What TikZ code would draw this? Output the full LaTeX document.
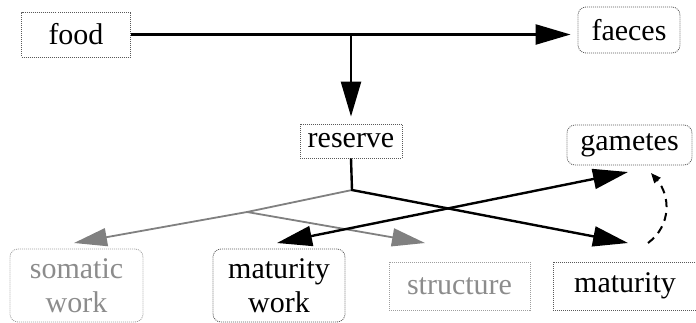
\documentclass[tikz,border=0pt]{standalone}
\usepackage{fontspec}
\newfontfamily\poolfont{LiberationSerif}[Extension=.ttf, UprightFont=*-Regular]
\usetikzlibrary{arrows.meta,calc}
\definecolor{boxline}{gray}{0.35}
\definecolor{fadeline}{gray}{0.62}
\definecolor{fadetext}{gray}{0.55}
\definecolor{flowgray}{gray}{0.5}

\begin{document}
\begin{tikzpicture}[x=1pt,y=-1pt,
  every node/.style={font=\poolfont\fontsize{30}{34}\selectfont, inner sep=0pt, align=center},
  pool/.style={draw=boxline, line width=0.8pt, dash pattern=on 1pt off 1pt},
  roundpool/.style={pool, rounded corners=8pt},
  faded/.style={draw=fadeline, text=fadetext},
  flow/.style={line width=2.4pt, -{Triangle[length=35pt,width=20pt]}},
  grayflow/.style={line width=1.8pt, draw=flowgray, -{Triangle[length=33pt,width=18pt]}, flowgray},
  signal/.style={line width=2pt, dash pattern=on 8pt off 6pt, -{Triangle[length=10pt,width=8pt]}},
]
\useasboundingbox (0,0) rectangle (696,322);

% compartments
\node[pool, minimum width=109pt, minimum height=45pt] (food) at (76,34.5) {food};
\node[roundpool, minimum width=102pt, minimum height=46pt] (faeces) at (629,30) {faeces};
\node[pool, minimum width=102pt, minimum height=34pt] (reserve) at (351,141) {reserve};
\node[roundpool, minimum width=125pt, minimum height=40pt] (gametes) at (629.5,145) {gametes};
\node[roundpool, faded, minimum width=133pt, minimum height=73pt] (somatic) at (76.5,285.5) {somatic\\work};
\node[roundpool, minimum width=132pt, minimum height=73pt] (matwork) at (279,285.5) {maturity\\work};
\node[pool, faded, minimum width=141pt, minimum height=48pt] (structure) at (459.5,286) {structure};
\node[pool, minimum width=144pt, minimum height=48pt] (maturity) at (625,286) {maturity};

% junctions and arrow ends
\coordinate (fork) at (352,190);
\coordinate (grayfork) at (247,212);
\coordinate (somTip) at (74,243);
\coordinate (strTip) at (425,243);
\coordinate (matTip) at (628,243);
\coordinate (mwTip) at (277,243);
\coordinate (gamTip) at (628,172);
\coordinate (sigStart) at (648,243);
\coordinate (sigEnd) at (651,173);

% fluxes
\draw[flow] (food.east) -- ([xshift=-7pt]food.east -| faeces.west);
\draw[flow] (food.east -| reserve.north) -- ([yshift=7pt]reserve.north);
\draw[grayflow] (fork) -- (grayfork) -- (somTip);
\draw[grayflow] (grayfork) -- (strTip);
\draw[flow] (reserve.south) -- (fork) -- (matTip);
\draw[line width=2.4pt, {Triangle[length=35pt,width=20pt]}-{Triangle[length=35pt,width=20pt]}] (mwTip) -- (gamTip);
\draw[signal] (sigStart) .. controls (672,225) and (670,195) .. (sigEnd);
\end{tikzpicture}
\end{document}
